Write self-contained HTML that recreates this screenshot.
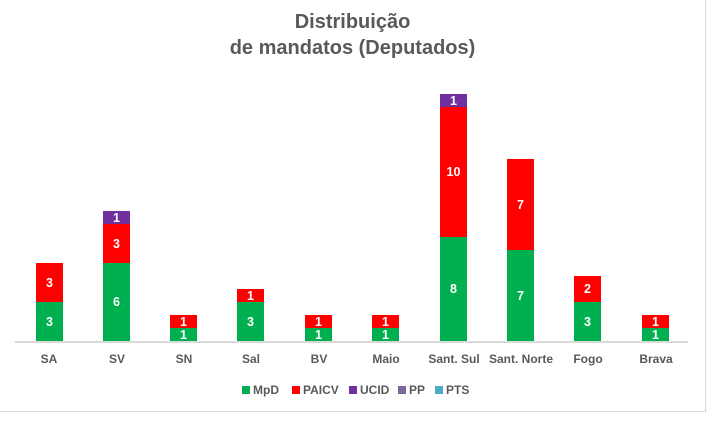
<!DOCTYPE html>
<html><head><meta charset="utf-8"><style>
body{margin:0;width:719px;height:421px;background:#fff;position:relative;overflow:hidden;font-family:"Liberation Sans",sans-serif;}
.b{position:absolute;width:27px;color:#fff;font-weight:bold;font-size:12.5px;display:flex;align-items:center;justify-content:center;}
.g{background:#00b050}.r{background:#ff0000}.p{background:#7030a0}
.c{position:absolute;top:352px;width:80px;text-align:center;font-size:12px;font-weight:bold;color:#595959;}
.t{position:absolute;left:0;width:705px;text-align:center;font-size:20px;font-weight:bold;color:#595959;}
.lg{position:absolute;top:383px;font-size:12px;font-weight:bold;color:#595959;}
.lg i{display:inline-block;width:8px;height:8px;margin-right:3px;}
</style></head><body>
<div style="position:absolute;left:0;top:0;width:705px;height:411px;border-right:1px solid #d9d9d9;border-bottom:1px solid #d9d9d9;"></div>
<div class="t" style="top:11px">Distribuição</div>
<div class="t" style="top:37px">de mandatos (Deputados)</div>
<div style="position:absolute;left:15px;top:341px;width:673px;height:2px;background:#d9d9d9"></div>

<div class="b r" style="left:36px;top:263px;height:39px">3</div><div class="b g" style="left:36px;top:302px;height:39px">3</div>
<div class="b p" style="left:103px;top:211px;height:13px">1</div><div class="b r" style="left:103px;top:224px;height:39px">3</div><div class="b g" style="left:103px;top:263px;height:78px">6</div>
<div class="b r" style="left:170px;top:315px;height:13px">1</div><div class="b g" style="left:170px;top:328px;height:13px">1</div>
<div class="b r" style="left:237px;top:289px;height:13px">1</div><div class="b g" style="left:237px;top:302px;height:39px">3</div>
<div class="b r" style="left:305px;top:315px;height:13px">1</div><div class="b g" style="left:305px;top:328px;height:13px">1</div>
<div class="b r" style="left:372px;top:315px;height:13px">1</div><div class="b g" style="left:372px;top:328px;height:13px">1</div>
<div class="b p" style="left:440px;top:94px;height:13px">1</div><div class="b r" style="left:440px;top:107px;height:130px">10</div><div class="b g" style="left:440px;top:237px;height:104px">8</div>
<div class="b r" style="left:507px;top:159px;height:91px">7</div><div class="b g" style="left:507px;top:250px;height:91px">7</div>
<div class="b r" style="left:574px;top:276px;height:26px">2</div><div class="b g" style="left:574px;top:302px;height:39px">3</div>
<div class="b r" style="left:642px;top:315px;height:13px">1</div><div class="b g" style="left:642px;top:328px;height:13px">1</div>

<div class="c" style="left:9px">SA</div><div class="c" style="left:77px">SV</div><div class="c" style="left:144px">SN</div><div class="c" style="left:211px">Sal</div><div class="c" style="left:279px">BV</div><div class="c" style="left:346px">Maio</div><div class="c" style="left:414px">Sant. Sul</div><div class="c" style="left:481px">Sant. Norte</div><div class="c" style="left:548px">Fogo</div><div class="c" style="left:616px">Brava</div>

<div class="lg" style="left:242px"><i style="background:#00b050"></i>MpD</div>
<div class="lg" style="left:292px"><i style="background:#ff0000"></i>PAICV</div>
<div class="lg" style="left:349px"><i style="background:#7030a0"></i>UCID</div>
<div class="lg" style="left:398px"><i style="background:#8064a2"></i>PP</div>
<div class="lg" style="left:435px"><i style="background:#4bacc6"></i>PTS</div>
</body></html>
